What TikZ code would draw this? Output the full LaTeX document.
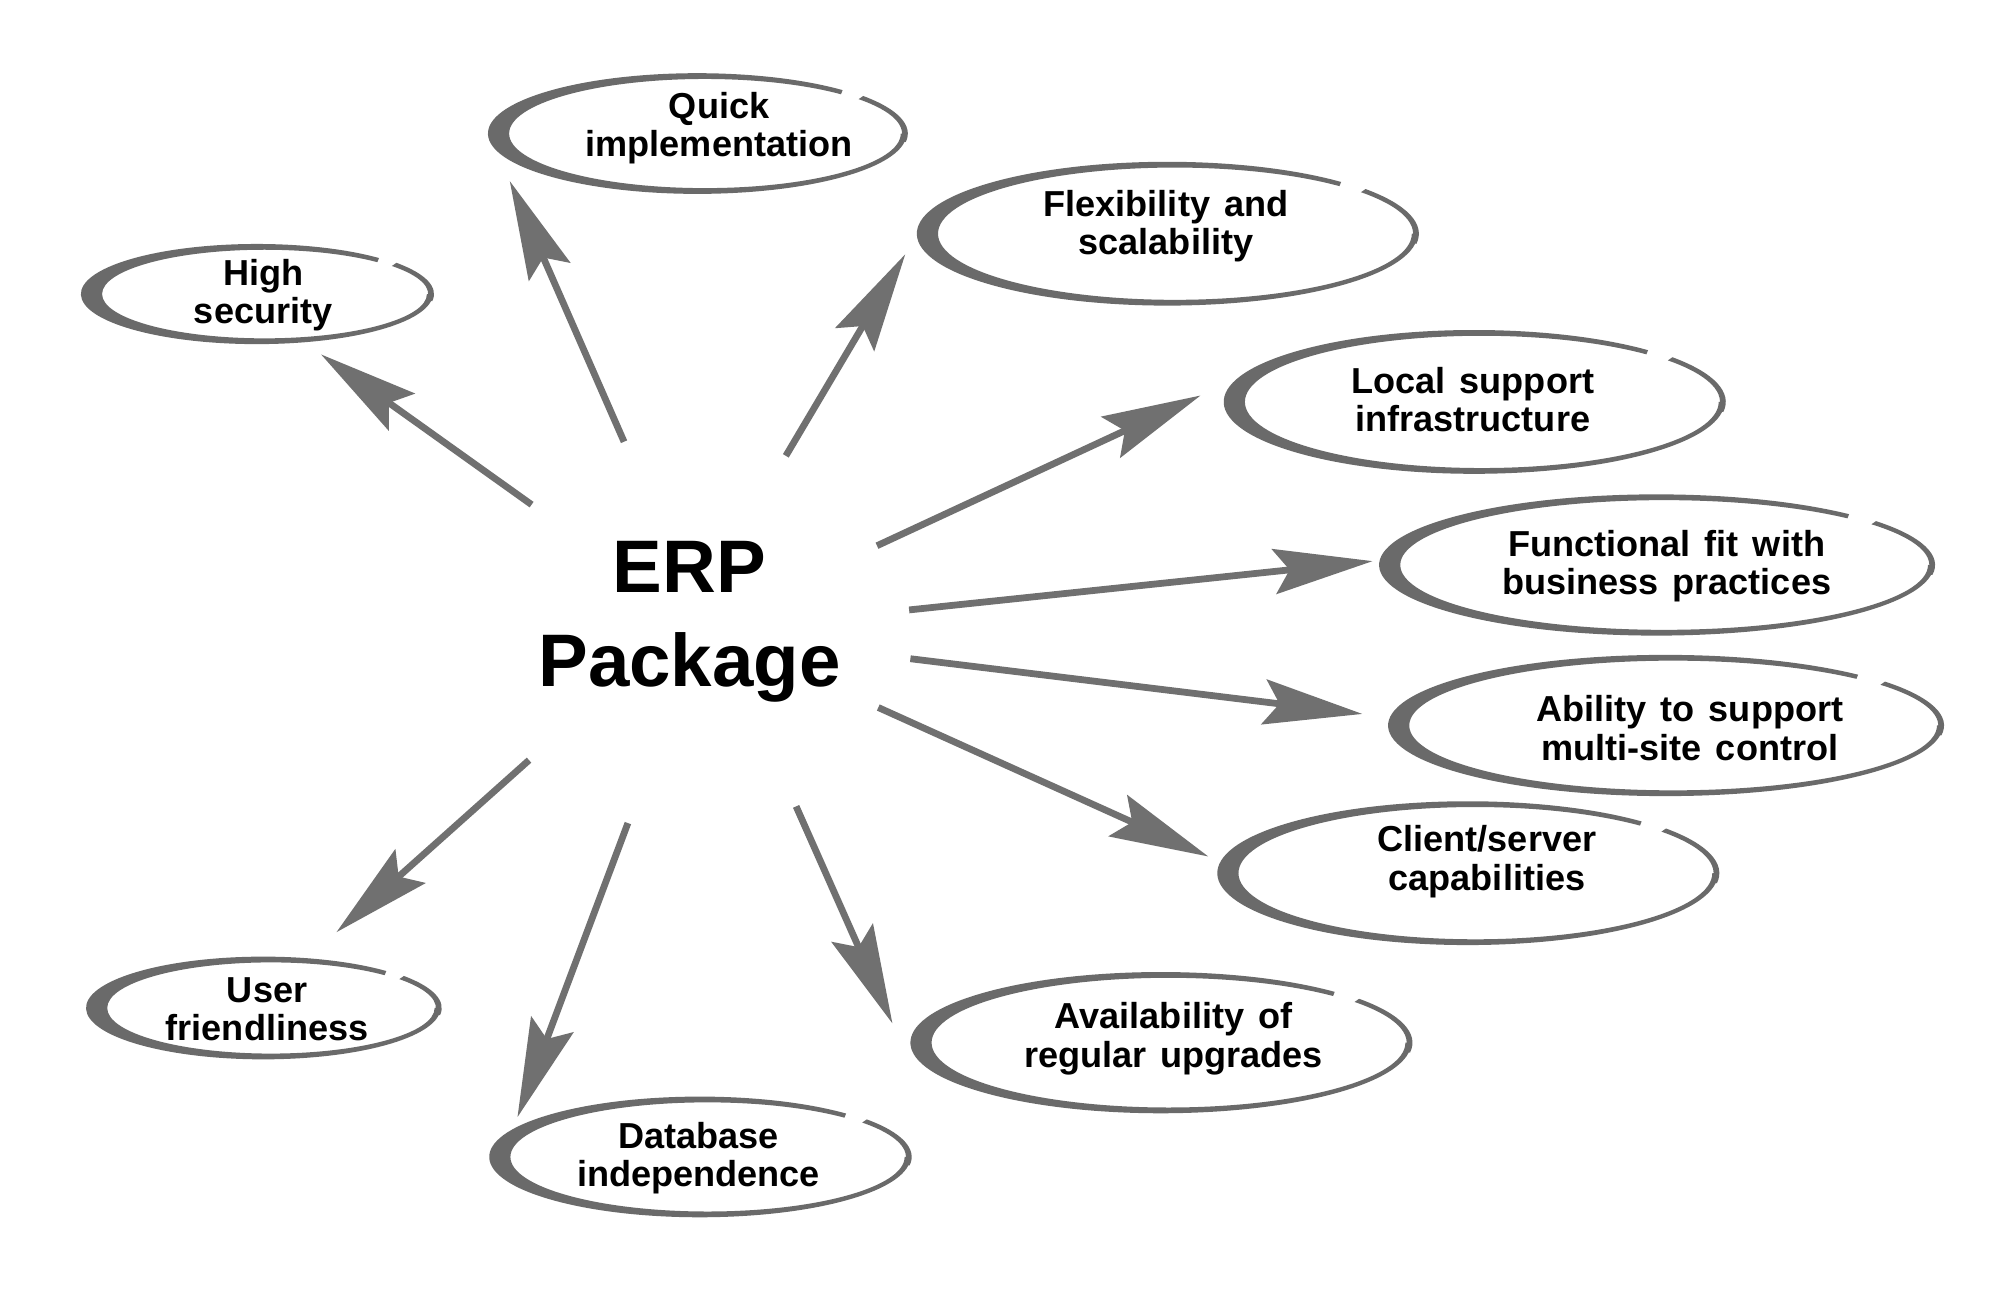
\documentclass[tikz,border=0pt]{standalone}
\usepackage{fontspec}
\setmainfont{Liberation Sans}[WordSpace=1.4]
\usetikzlibrary{arrows.meta,calc}
\definecolor{arrgray}{HTML}{707070}
\definecolor{ringgray}{HTML}{6A6A6A}
% hand-drawn looking ring: cx cy a b (in 0.01cm units, y downward)
\newcommand{\erpring}[4]{%
  \pgfmathsetmacro{\rcx}{#1/100}\pgfmathsetmacro{\rcy}{-#2/100}%
  \pgfmathsetmacro{\ra}{#3/100}\pgfmathsetmacro{\rb}{#4/100}%
  \pgfmathsetmacro{\ria}{\ra-0.105}\pgfmathsetmacro{\rib}{\rb-0.045}%
  \pgfmathsetmacro{\rix}{\rcx+0.06}%
  \pgfmathsetmacro{\rea}{\ra+0.01}\pgfmathsetmacro{\reb}{\rb+0.005}%
  \pgfmathsetmacro{\rfa}{\rea-0.045}\pgfmathsetmacro{\rfb}{\reb-0.04}%
  \fill[ringgray] ($(\rcx,\rcy)+(46:\ra cm and \rb cm)$)
    arc[start angle=46,end angle=360,x radius=\ra,y radius=\rb]
    -- ($(\rix,\rcy)+(360:\ria cm and \rib cm)$)
    arc[start angle=360,end angle=46,x radius=\ria,y radius=\rib] -- cycle;%
  \fill[ringgray] ($(\rcx,\rcy)+(-8:\rea cm and \reb cm)$)
    arc[start angle=-8,end angle=38,x radius=\rea,y radius=\reb]
    -- ($(\rcx,\rcy)+(38:\rfa cm and \rfb cm)$)
    arc[start angle=38,end angle=-8,x radius=\rfa,y radius=\rfb] -- cycle;%
}
\begin{document}
\begin{tikzpicture}[x=1cm,y=1cm,
  lbl/.style={align=center,font=\fontsize{8pt}{8.5pt}\selectfont\bfseries,inner sep=0pt},
  arr/.style={draw=arrgray,line width=1.5pt,-{Stealth[length=7.7mm,width=3.5mm,inset=1.2mm]}},
]
\useasboundingbox[fill=white] (0,0) rectangle (15.63,-10.093);

% rings
\erpring{200}{229}{137}{39}
\erpring{543}{104}{163}{47}
\erpring{909}{182}{195}{56}
\erpring{1148}{313}{195}{56}
\erpring{1290}{440}{216}{55}
\erpring{1297}{565}{216}{55}
\erpring{1143}{680}{195}{56}
\erpring{904}{812}{195}{55}
\erpring{545}{901}{164}{47}
\erpring{205}{785}{138}{40}

% labels
\node[lbl] (hs) at (2.05,-2.30) {High\\security};
\node[lbl] (qi) at (5.60,-1.00) {Quick\\implementation};
\node[lbl] (fs) at (9.08,-1.76) {Flexibility and\\scalability};
\node[lbl] (ls) at (11.47,-3.11) {Local support\\infrastructure};
\node[lbl] (ff) at (12.98,-4.41) {Functional fit with\\business practices};
\node[lbl] (ab) at (13.16,-5.67) {Ability to support\\multi-site control};
\node[lbl] (cs) at (11.58,-6.71) {Client/server\\capabilities};
\node[lbl] (av) at (9.14,-8.09) {Availability of\\regular upgrades};
\node[lbl] (db) at (5.44,-9.02) {Database\\independence};
\node[lbl] (uf) at (2.08,-7.86) {User\\friendliness};
\node[font=\fontsize{16.5pt}{20.8pt}\selectfont\bfseries,align=center,inner sep=0pt] (erp) at (5.37,-4.845) {ERP\\Package};

% arrow ends
\coordinate (s1) at (4.14,-3.93);  \coordinate (t1) at (2.50,-2.76);
\coordinate (s2) at (4.86,-3.44);  \coordinate (t2) at (3.97,-1.41);
\coordinate (s3) at (6.12,-3.55);  \coordinate (t3) at (7.05,-1.98);
\coordinate (s4) at (6.83,-4.25);  \coordinate (t4) at (9.35,-3.08);
\coordinate (s5) at (7.08,-4.75);  \coordinate (t5) at (10.69,-4.37);
\coordinate (s6) at (7.09,-5.13);  \coordinate (t6) at (10.61,-5.56);
\coordinate (s7) at (6.84,-5.51);  \coordinate (t7) at (9.41,-6.67);
\coordinate (s8) at (6.20,-6.28);  \coordinate (t8) at (6.95,-7.97);
\coordinate (s9) at (4.89,-6.41);  \coordinate (t9) at (4.03,-8.70);
\coordinate (s10) at (4.12,-5.92); \coordinate (t10) at (2.62,-7.26);

\foreach \i in {1,...,10} {\draw[arr] (s\i) -- (t\i);}
\end{tikzpicture}
\end{document}
